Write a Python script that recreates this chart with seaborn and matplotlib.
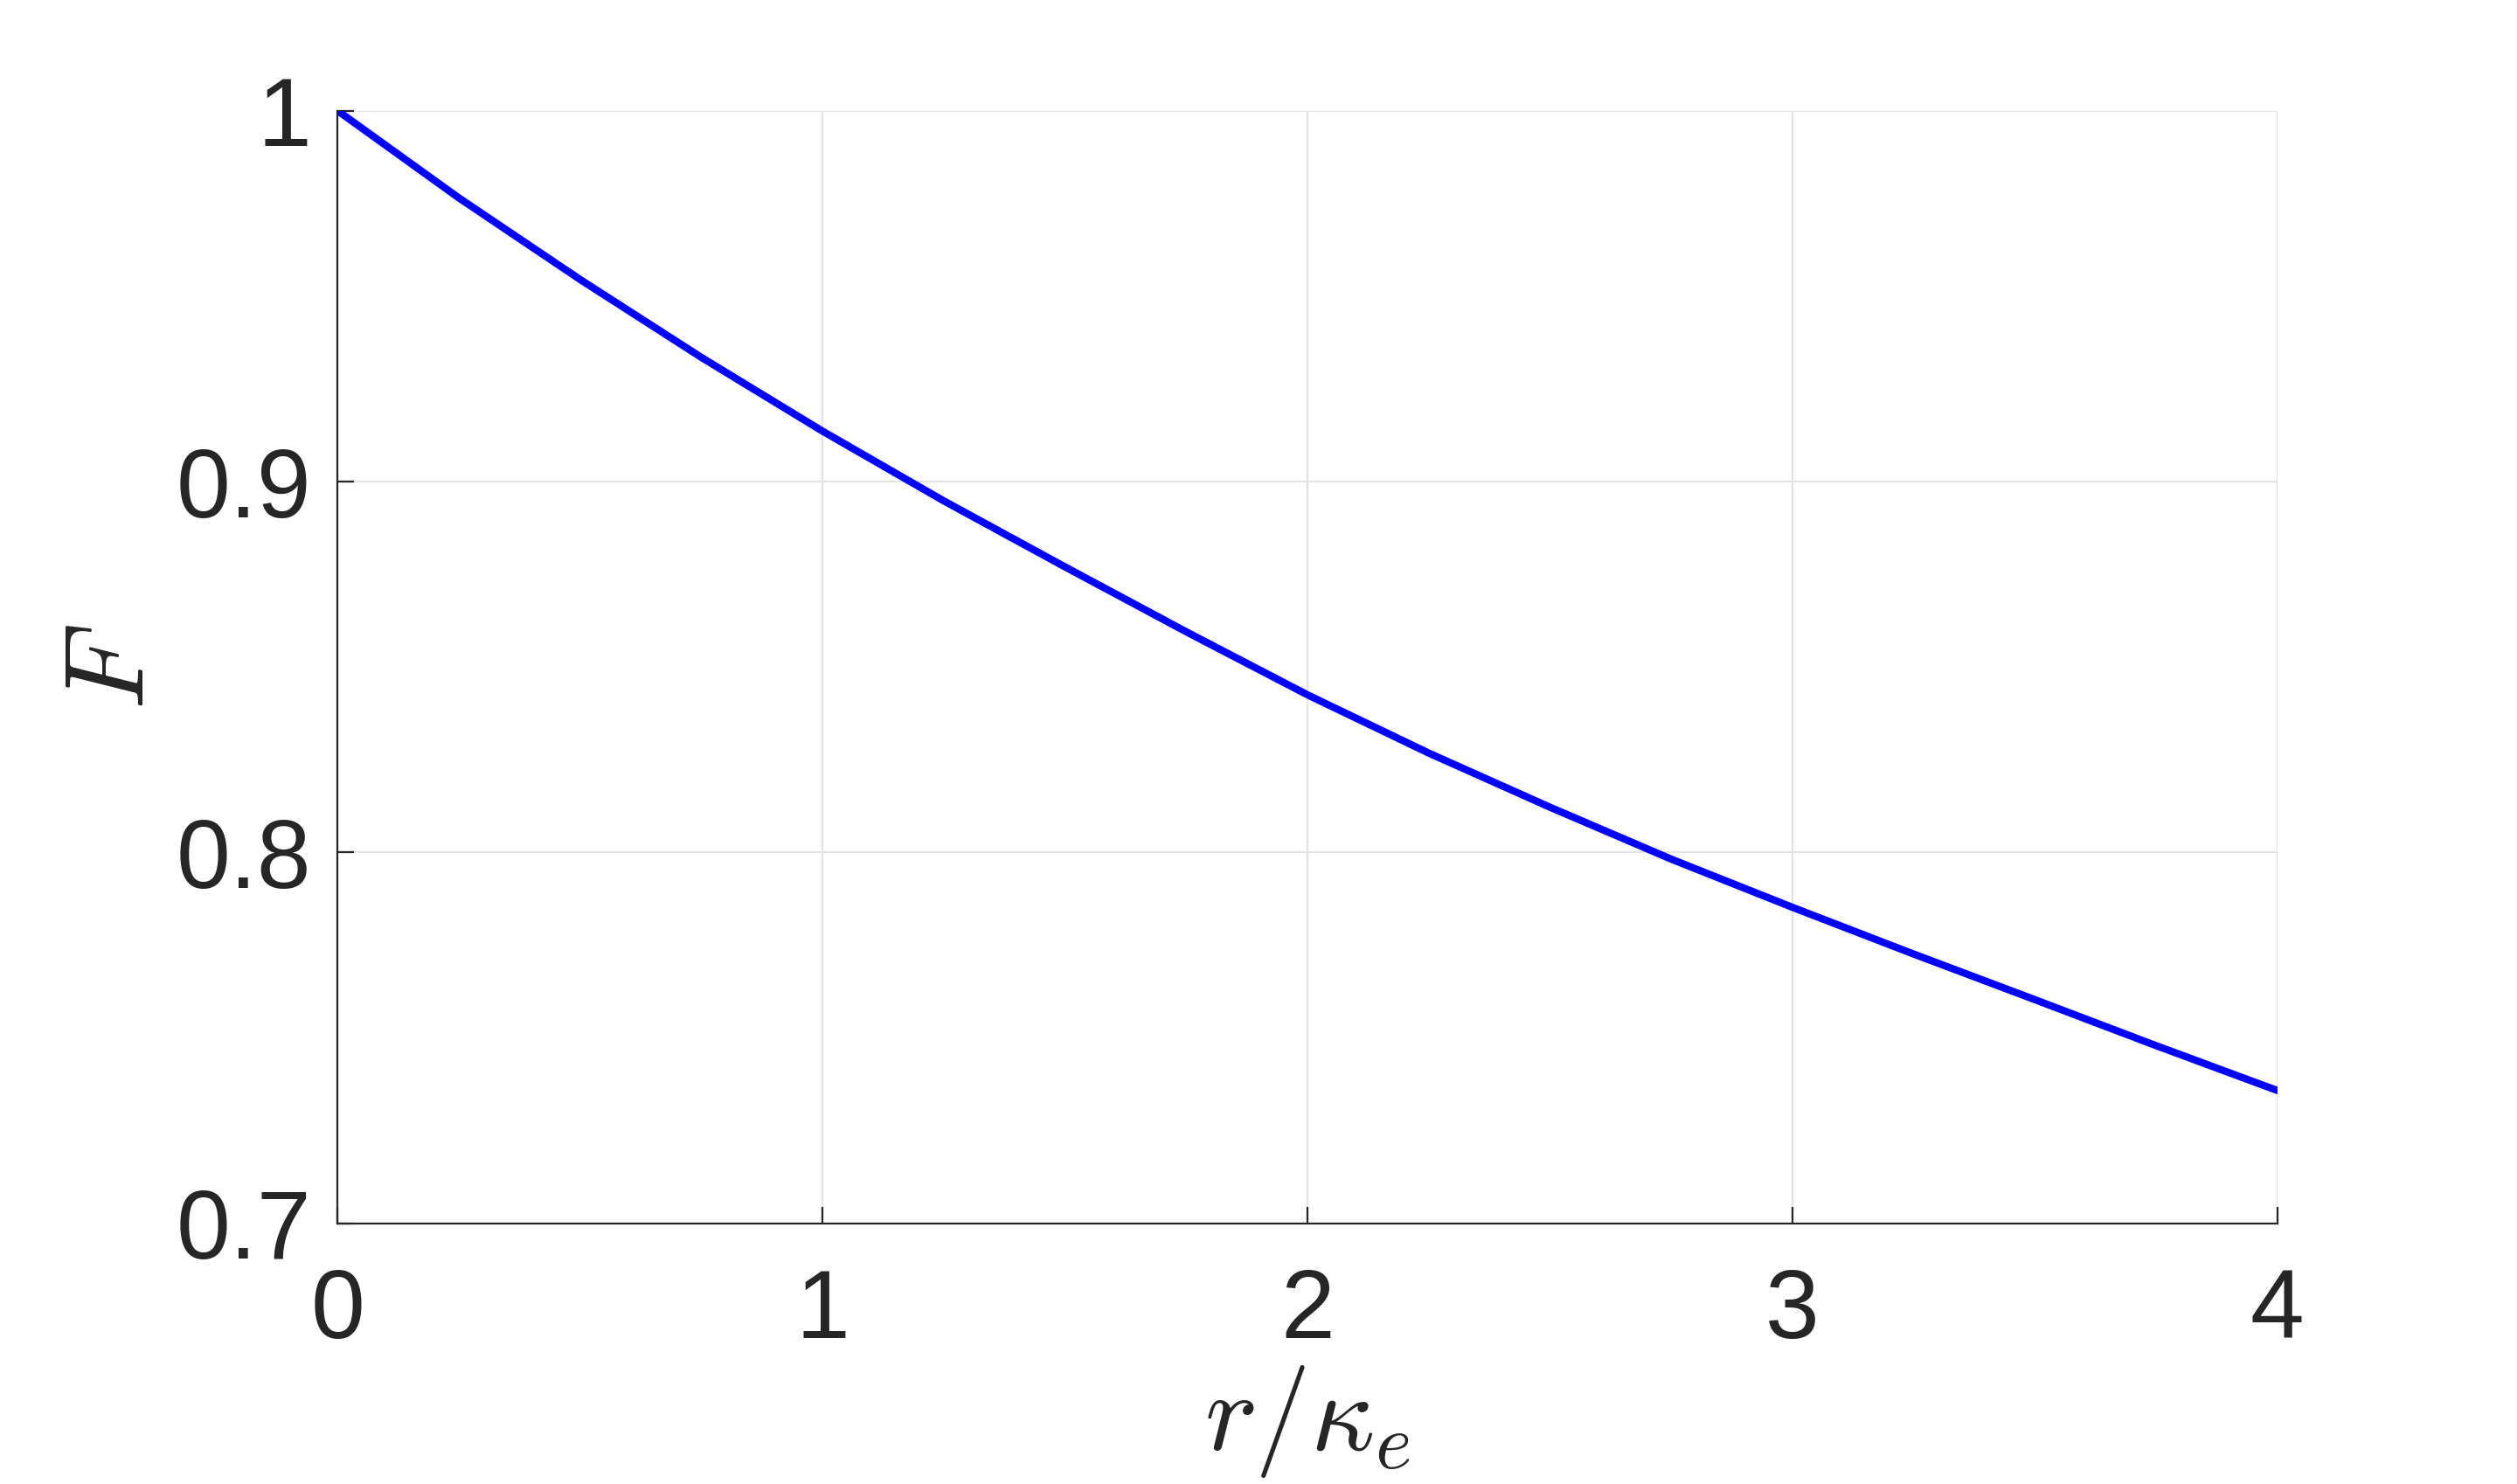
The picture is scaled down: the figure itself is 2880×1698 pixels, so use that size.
import numpy as np
import pandas as pd
import matplotlib
matplotlib.use("Agg")
import matplotlib.pyplot as plt
import seaborn as sns

# values
r_over_kappa = [0.0, 0.25, 0.5, 0.75, 1.0, 1.25, 1.5, 1.75, 2.0,
                2.25, 2.5, 2.75, 3.0, 3.25, 3.5, 3.75, 4.0]
F_values = [1.0, 0.9765, 0.9545, 0.9335, 0.9136, 0.8948, 0.877, 0.8595, 0.8425,
            0.8268, 0.8122, 0.7982, 0.7852, 0.7726, 0.7603, 0.7479, 0.7358]

x_ticks = [0, 1, 2, 3, 4]
y_ticks = [0.7, 0.8, 0.9, 1.0]
y_tick_labels = ["0.7", "0.8", "0.9", "1"]

sns.set_theme(style="whitegrid")
plt.rcParams['font.family'] = ['Liberation Sans', 'DejaVu Sans']
plt.rcParams['mathtext.fontset'] = 'cm'

df = pd.DataFrame({'r': r_over_kappa, 'F': F_values})

fig = plt.figure(figsize=(14.4, 8.49), dpi=200)
ax = fig.add_axes([0.1342, 0.1757, 0.7706, 0.7496])

sns.lineplot(data=df, x='r', y='F', ax=ax, color=(0, 0, 1), linewidth=3.0)

ax.set_xlim(0, 4)
ax.set_ylim(0.7, 1.0)
ax.set_xticks(x_ticks)
ax.set_xticklabels([str(t) for t in x_ticks])
ax.set_yticks(y_ticks)
ax.set_yticklabels(y_tick_labels)

# MATLAB-like look
ax.grid(True, color='#e3e3e3', linewidth=0.8)
ax.set_axisbelow(True)
for side in ['top', 'right']:
    ax.spines[side].set_visible(False)
for side in ['left', 'bottom']:
    ax.spines[side].set_color('#262626')
    ax.spines[side].set_linewidth(0.8)
ax.tick_params(axis='both', direction='in', length=7, width=0.8,
               color='#262626', labelsize=40, labelcolor='#262626')
ax.tick_params(axis='x', pad=18)
ax.tick_params(axis='y', pad=11)
ax.tick_params(left=True, bottom=True)

ax.set_xlabel(r'$r/\kappa_e$', fontsize=46, color='#262626')
ax.set_ylabel(r'$F$', fontsize=46, color='#262626')
ax.xaxis.set_label_coords(0.5, -0.178)
ax.xaxis.label.set_va('center')
ax.yaxis.set_label_coords(-0.115, 0.5)
ax.yaxis.label.set_va('center')

fig.savefig('out.png', dpi=200, facecolor='white')
